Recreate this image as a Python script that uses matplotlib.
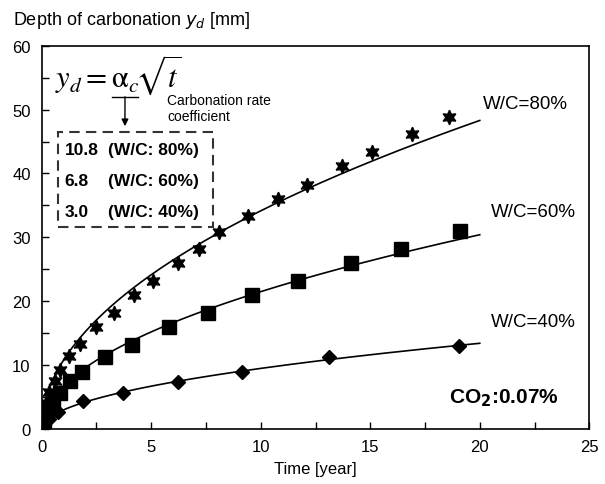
import numpy as np
import matplotlib
matplotlib.use("Agg")
import matplotlib.pyplot as plt

plt.rcParams['font.family'] = ['Liberation Sans', 'DejaVu Sans']
plt.rcParams['mathtext.fontset'] = 'stix'

# measured points, W/C = 80 %, 60 %, 40 %
t80 = [0.05, 0.12, 0.2, 0.33, 0.6, 0.84, 1.25, 1.75, 2.5, 3.3, 4.2, 5.1, 6.2, 7.2,
       8.1, 9.4, 10.8, 12.1, 13.7, 15.1, 16.9, 18.6]
y80 = [1.0, 2.3, 4.0, 5.8, 7.5, 9.2, 11.4, 13.3, 16.0, 18.2, 21.0, 23.2, 26.0, 28.2,
       30.8, 33.3, 36.0, 38.2, 41.2, 43.4, 46.2, 48.8]
t60 = [0.03, 0.1, 0.25, 0.5, 0.84, 1.3, 1.85, 2.9, 4.1, 5.8, 7.6, 9.6, 11.7, 14.1, 16.4, 19.1]
y60 = [0.3, 1.3, 2.8, 4.2, 5.6, 7.5, 8.9, 11.3, 13.2, 16.0, 18.2, 21.0, 23.2, 26.0, 28.2, 31.0]
t40 = [0.06, 0.33, 0.74, 1.9, 3.7, 6.2, 9.15, 13.1, 19.05]
y40 = [0.5, 1.6, 2.7, 4.4, 5.6, 7.4, 8.9, 11.3, 13.0]

# carbonation rate coefficients
alpha = [10.8, 6.8, 3.0]
wc_labels = ['W/C=80%', 'W/C=60%', 'W/C=40%']

fig = plt.figure(figsize=(6.05, 4.85), dpi=100)
ax = fig.add_axes([0.069, 0.1134, 0.905, 0.7903])

tt = np.linspace(0, 20, 400)
for a in alpha:
    ax.plot(tt, a * np.sqrt(tt), color='black', linewidth=1.2, zorder=2)

ax.plot(t80, y80, linestyle='none', marker=(6, 1, 0), markersize=10.5,
        color='black', zorder=3)
ax.plot(t60, y60, linestyle='none', marker='s', markersize=10,
        color='black', zorder=3)
ax.plot(t40, y40, linestyle='none', marker='D', markersize=7,
        color='black', zorder=3)

ax.set_xlim(0, 25)
ax.set_ylim(0, 60)
ax.set_xticks([0, 5, 10, 15, 20, 25])
ax.set_xticks([2.5, 7.5, 12.5, 17.5, 22.5], minor=True)
ax.set_yticks([0, 10, 20, 30, 40, 50, 60])
ax.set_yticks([5, 15, 25, 35, 45, 55], minor=True)
ax.tick_params(which='both', direction='in', labelsize=12, width=1.0, length=5)
ax.tick_params(axis='x', which='major', pad=7)
ax.tick_params(axis='y', which='major', pad=8)
for s in ['top', 'right', 'left', 'bottom']:
    ax.spines[s].set_linewidth(1.2)

ax.set_xlabel('Time [year]', fontsize=12, labelpad=5)
fig.text(0.021, 0.958, 'Depth of carbonation $\\mathit{y_d}$ [mm]', fontsize=13,
         ha='left', va='center', math_fontfamily='dejavusans')

# labels on curves
ax.text(20.15, 50.9, wc_labels[0], fontsize=13.5, ha='left', va='center')
ax.text(20.5, 34.0, wc_labels[1], fontsize=13.5, ha='left', va='center')
ax.text(20.5, 16.9, wc_labels[2], fontsize=13.5, ha='left', va='center')
ax.text(18.6, 5.0, 'CO$_\\mathbf{2}$:0.07%', fontsize=15, fontweight='bold',
        ha='left', va='center', math_fontfamily='dejavusans')

# formula and coefficient box
ax.text(0.6, 55.6, r'$y_d=\mathrm{\alpha}_c\!\sqrt{t}$', fontsize=22,
        ha='left', va='center')
ax.plot([3.2, 4.4], [52.0, 52.0], color='black', linewidth=1.0)
ax.annotate('', xy=(3.8, 47.4), xytext=(3.8, 52.0),
            arrowprops=dict(arrowstyle='-|>', color='black', lw=1.0,
                            mutation_scale=10, shrinkA=0, shrinkB=0))
ax.text(5.72, 50.2, 'Carbonation rate\ncoefficient', fontsize=10,
        ha='left', va='center', linespacing=1.15)

box = plt.Rectangle((0.76, 31.6), 7.05, 14.9, fill=False, edgecolor='#333333',
                    linestyle=(0, (5, 3)), linewidth=1.5)
ax.add_patch(box)
rows = [('10.8', '(W/C: 80%)'), ('6.8', '(W/C: 60%)'), ('3.0', '(W/C: 40%)')]
for i, (v, w) in enumerate(rows):
    yy = 43.8 - i * 4.9
    ax.text(1.05, yy, v, fontsize=12.5, fontweight='bold', ha='left', va='center')
    ax.text(3.03, yy, w, fontsize=12.5, fontweight='bold', ha='left', va='center')

plt.savefig('out.png', dpi=100)
